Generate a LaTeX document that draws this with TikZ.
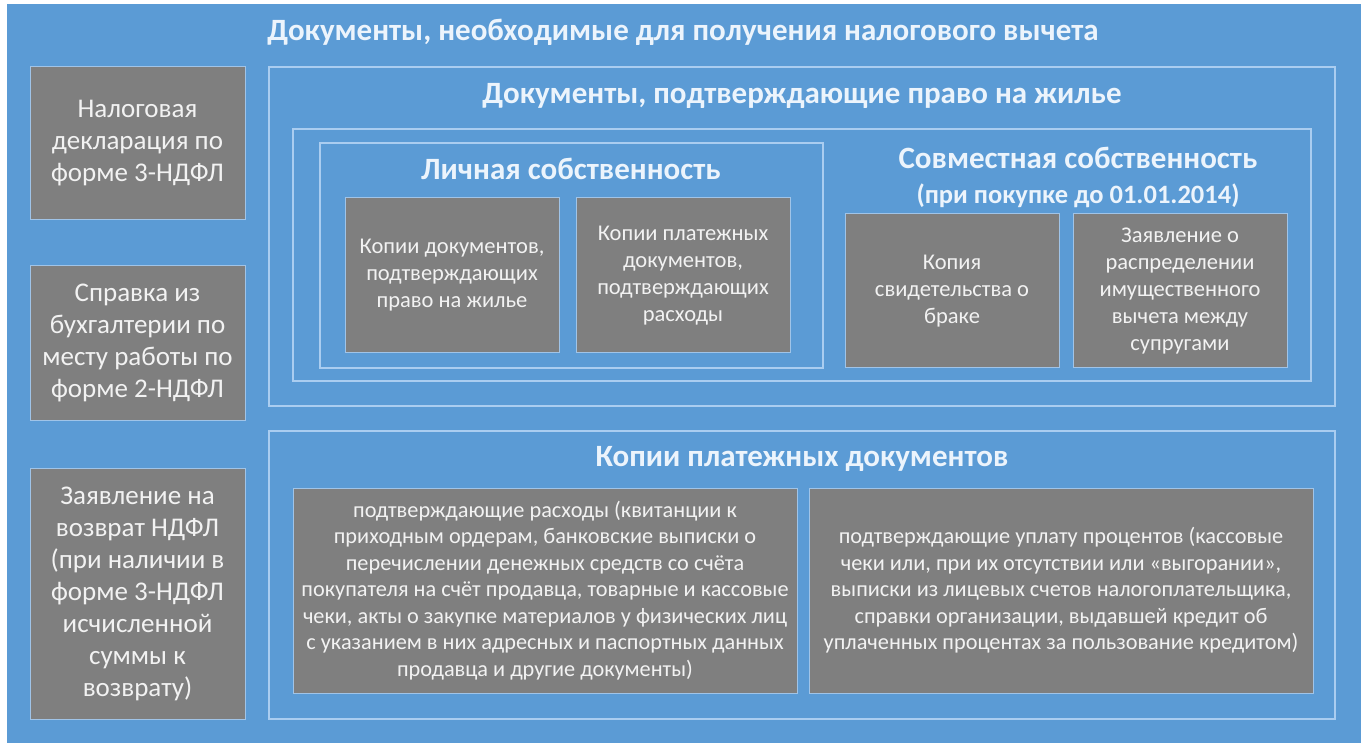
\documentclass[tikz,border=0pt]{standalone}
\usepackage{fontspec}
\setmainfont{Carlito}
\definecolor{bgblue}{RGB}{91,155,213}
\definecolor{boxgray}{RGB}{127,127,127}
\definecolor{boxline}{RGB}{160,196,232}
\definecolor{frameline}{RGB}{170,205,240}
\definecolor{titletext}{RGB}{236,244,252}
\definecolor{boxtext}{RGB}{242,242,242}
\tikzset{
  outerbox/.style={draw=none, fill=bgblue, anchor=north west, inner sep=0pt, outer sep=0pt},
  framebox/.style={draw=frameline, line width=1.2pt, anchor=north west, inner sep=0pt, outer sep=0pt},
  gbox/.style={draw=boxline, fill=boxgray, line width=1pt, anchor=north west, inner sep=0pt, outer sep=0pt, align=center, text=boxtext},
  lefttext/.style={font=\fontsize{27}{32}\selectfont},
  midtext/.style={font=\fontsize{22.5}{27}\selectfont},
  longtext/.style={font=\fontsize{22.3}{26.5}\selectfont},
  ttl/.style={text=titletext, inner sep=0pt, font=\bfseries\fontsize{31}{34}\selectfont},
  subttl/.style={text=titletext, inner sep=0pt, font=\bfseries\fontsize{26.5}{30}\selectfont}
}
\begin{document}
\begin{tikzpicture}[x=1pt,y=-1pt]
\useasboundingbox (0,0) rectangle (1366,751);
\fill[white] (0,0) rectangle (1366,751);
\node[outerbox, minimum width=1354, minimum height=739] (outer) at (7,4) {};
\node[ttl] (maintitle) at (683,32) {Документы, необходимые для получения налогового вычета};

% left column
\node[gbox, lefttext, minimum width=215, minimum height=153] (L1) at (30,67)
  {Налоговая\\декларация по\\форме 3-НДФЛ};
\node[gbox, lefttext, minimum width=215, minimum height=154] (L2) at (30,266)
  {Справка из\\бухгалтерии по\\месту работы по\\форме 2-НДФЛ};
\node[gbox, lefttext, minimum width=215, minimum height=251] (L3) at (30,468)
  {Заявление на\\возврат НДФЛ\\(при наличии в\\форме 3-НДФЛ\\исчисленной\\суммы к\\возврату)};

% frame 1
\node[framebox, minimum width=1066, minimum height=339] (F1) at (269,67) {};
\node[ttl] (F1t) at (802,96) {Документы, подтверждающие право на жилье};
\node[framebox, minimum width=1018, minimum height=252] (F1in) at (293,129) {};
\node[framebox, minimum width=503, minimum height=225] (P) at (320,143) {};
\node[ttl] (Pt) at (571,169) {Личная собственность};
\node[gbox, midtext, minimum width=214, minimum height=155] (B1) at (345,198)
  {Копии документов,\\подтверждающих\\право на жилье};
\node[gbox, midtext, minimum width=214, minimum height=155] (B2) at (576,198)
  {Копии платежных\\документов,\\подтверждающих\\расходы};
\node[ttl] (Jt) at (1078,158) {Совместная собственность};
\node[subttl] (Js) at (1078,196) {(при покупке до 01.01.2014)};
\node[gbox, midtext, minimum width=214, minimum height=154] (B3) at (845,214)
  {Копия\\свидетельства о\\браке};
\node[gbox, midtext, minimum width=214, minimum height=154] (B4) at (1073,214)
  {Заявление о\\распределении\\имущественного\\вычета между\\супругами};

% frame 2
\node[framebox, minimum width=1066, minimum height=288] (F2) at (269,431) {};
\node[ttl] (F2t) at (802,459) {Копии платежных документов};
\node[gbox, longtext, minimum width=504, minimum height=205] (B5) at (293,488)
  {подтверждающие расходы (квитанции к\\приходным ордерам, банковские выписки о\\перечислении денежных средств со счёта\\покупателя на счёт продавца, товарные и кассовые\\чеки, акты о закупке материалов у физических лиц\\с указанием в них адресных и паспортных данных\\продавца и другие документы)};
\node[gbox, longtext, minimum width=504, minimum height=205] (B6) at (809,488)
  {подтверждающие уплату процентов (кассовые\\чеки или, при их отсутствии или «выгорании»,\\выписки из лицевых счетов налогоплательщика,\\справки организации, выдавшей кредит об\\уплаченных процентах за пользование кредитом)};
\end{tikzpicture}
\end{document}
